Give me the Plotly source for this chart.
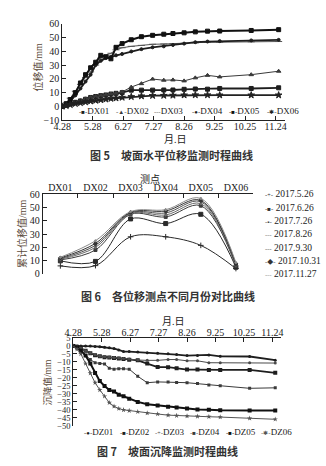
import plotly.graph_objects as go

# ---------------- data ----------------
# Fig 5: horizontal displacement (mm) vs date
dx_names = ["DX01", "DX02", "DX03", "DX04", "DX05", "DX06"]
dates = ["2017-04-28", "2017-05-02", "2017-05-06", "2017-05-11", "2017-05-16", "2017-05-21",
         "2017-05-26", "2017-05-31", "2017-06-05", "2017-06-10", "2017-06-15", "2017-06-20",
         "2017-06-26", "2017-07-05", "2017-07-15", "2017-07-26", "2017-08-06", "2017-08-15",
         "2017-08-26", "2017-09-06", "2017-09-18", "2017-09-30", "2017-10-31", "2017-11-27"]
dx01 = [0, 0.8, 1.8, 3, 4, 5.2, 6.5, 7.2, 7.8, 8.3, 9, 9.5, 10, 11.8, 11.8, 11.8, 11.9, 11.9, 12.4, 12.6, 12.5, 13, 13, 13.5]
dx02 = [0, 0.8, 1.8, 3, 4.2, 5.5, 6.5, 7.2, 7.8, 8.3, 9, 9.5, 10.5, 14, 16.5, 19.8, 19, 19.2, 18.5, 20.7, 22.5, 21.4, 23, 25.5]
dx03 = [0, 2.5, 6, 11, 16, 21, 25, 30, 35, 37, 38.5, 41, 42.5, 43.5, 44.2, 45, 45.2, 45.5, 45.8, 46, 46.5, 46.5, 46.8, 47]
dx04 = [0, 1.5, 4, 8, 13, 18, 23, 30, 33, 35, 36, 37, 38, 39.8, 41.5, 42.8, 43.5, 44.5, 45.5, 46.5, 47, 47.3, 47.8, 48.2]
dx05 = [0, 2, 5, 10, 17, 23, 28, 32, 37, 36, 34.5, 42.8, 45.5, 48.3, 50.5, 51.5, 52.3, 52.8, 53.3, 54, 54.5, 54.6, 55, 55.6]
dx06 = [0, 0.5, 1.2, 2, 2.6, 3.2, 3.8, 4.3, 4.7, 5.2, 5.7, 6, 6.5, 7, 7.5, 7.8, 7.9, 8, 8.2, 8.3, 8.3, 8.2, 8.2, 8.2]
tick_dates = ["2017-04-28", "2017-05-28", "2017-06-27", "2017-07-27", "2017-08-26",
              "2017-09-25", "2017-10-25", "2017-11-24"]
tick_labels = ["4.28", "5.28", "6.27", "7.27", "8.26", "9.25", "10.25", "11.24"]

# Fig 6: cumulative displacement (mm) per point, per survey date
survey_names = ["2017.5.26", "2017.6.26", "2017.7.26", "2017.8.26", "2017.9.30", "2017.10.31", "2017.11.27"]
cum_0526 = [6, 6.2, 28, 28, 21.5, 4]
cum_0626 = [9.8, 9.4, 41.5, 38, 45, 5]
cum_0726 = [10.5, 18, 45, 43, 51.5, 6]
cum_0826 = [11, 20, 45.5, 44.5, 53, 6.5]
cum_0930 = [11.5, 21.5, 46, 46, 54.5, 7]
cum_1031 = [12, 23, 46.5, 47.5, 55.5, 7.5]
cum_1127 = [12.5, 25, 47, 48.5, 57, 8.5]

# Fig 7: settlement (mm) vs date
dz_names = ["DZ01", "DZ02", "DZ03", "DZ04", "DZ05", "DZ06"]
dz01 = [0, 0, 0, 0, -0.1, -0.3, -0.5, -0.8, -1.1, -1.6, -2.5, -3.5, -3.5, -3.8, -4.2, -4.5, -4.8, -5.4, -6.0, -6.0, -5.6, -6.5, -6.6, -8.9]
dz02 = [0, -0.5, -1.5, -3, -4.5, -5.8, -6.5, -7, -7.2, -7.5, -7.8, -8.2, -8.6, -9, -11, -13.2, -13.3, -13.9, -14.8, -14.8, -15, -15, -15, -16.8]
dz03 = [0, -0.5, -1.5, -3, -4.5, -5.5, -6.5, -6.8, -7, -7.2, -7.5, -7.8, -8.2, -8.8, -9, -9, -8.5, -8.5, -9.3, -9.3, -10.5, -10.5, -10.5, -10.7]
dz04 = [0, -1, -3, -6, -8.5, -10.5, -11, -11.3, -14, -14.5, -14.2, -14.2, -14.5, -19, -23, -22.5, -22.5, -22.8, -23, -23.5, -24.5, -24.9, -26.5, -26.2]
dz05 = [0, -1, -3, -6, -11, -17, -22, -25, -27.5, -28.5, -30.5, -31.5, -33, -35, -36.5, -37.2, -38, -38.5, -39.2, -39.8, -39.9, -40.2, -40.4, -40.4]
dz06 = [0, -2, -5, -11, -17, -23, -27.5, -31.5, -35.5, -37.8, -39.2, -40, -40.5, -41.2, -42, -42.6, -43.3, -43.6, -43.9, -44.1, -44.3, -44.5, -45.3, -45.9]

# ---------------- styles ----------------
W, H = 326, 466
NUM_FONT = "Liberation Serif, Noto Sans CJK SC"
CJK_BOLD = "Noto Sans CJK SC"
TITLE_COLOR = "#5c4b3b"

def X(px):
    return px / W

def Y(py):
    return 1 - py / H

dx_series = [dx01, dx02, dx03, dx04, dx05, dx06]
dx_style = [
    dict(color="#1e1e1e", width=1.8, symbol="square", size=4, glyph="■"),
    dict(color="#3a3a3a", width=1.0, symbol="triangle-up", size=4, glyph="▲"),
    dict(color="#555555", width=1.0, symbol="line-ew-open", size=5, glyph="-"),
    dict(color="#1e1e1e", width=1.8, symbol="circle", size=3, glyph="●"),
    dict(color="#111111", width=2.0, symbol="square", size=4, glyph="■"),
    dict(color="#222222", width=1.8, symbol="star", size=5, glyph="✱"),
]
cum_series = [cum_0526, cum_0626, cum_0726, cum_0826, cum_0930, cum_1031, cum_1127]
cum_style = [
    dict(color="#2a2a2a", symbol="cross-thin-open", size=4, glyph="+"),
    dict(color="#2a2a2a", symbol="square", size=4, glyph="■"),
    dict(color="#3c3c3c", symbol="square", size=3, glyph="▪"),
    dict(color="#6a6a6a", symbol="circle", size=2, glyph=""),
    dict(color="#505050", symbol="circle", size=2, glyph=""),
    dict(color="#333333", symbol="diamond", size=3, glyph="◆"),
    dict(color="#8a8a8a", symbol="circle", size=2, glyph=""),
]
dz_series = [dz01, dz02, dz03, dz04, dz05, dz06]
dz_style = [
    dict(color="#1e1e1e", width=1.8, symbol="circle", size=3, glyph="●"),
    dict(color="#1e1e1e", width=1.8, symbol="square", size=4, glyph="■"),
    dict(color="#4a4a4a", width=1.0, symbol="circle", size=3, glyph="+"),
    dict(color="#3a3a3a", width=1.0, symbol="square", size=3, glyph="■"),
    dict(color="#111111", width=2.0, symbol="square", size=4, glyph="■"),
    dict(color="#555555", width=1.0, symbol="star", size=4, glyph="✱"),
]

fig = go.Figure()

# Fig 5 traces
for name, vals, st in zip(dx_names, dx_series, dx_style):
    fig.add_trace(go.Scatter(
        x=dates, y=vals, name=name, mode="lines+markers", xaxis="x", yaxis="y",
        line=dict(color=st["color"], width=st["width"]),
        marker=dict(symbol=st["symbol"], size=st["size"], color=st["color"],
                    line=dict(color=st["color"], width=1)),
        showlegend=False))

# Fig 6 traces
for name, vals, st in zip(survey_names, cum_series, cum_style):
    fig.add_trace(go.Scatter(
        x=dx_names, y=vals, name=name, mode="lines+markers", xaxis="x2", yaxis="y2",
        line=dict(color=st["color"], width=1.0, shape="spline", smoothing=1.0),
        marker=dict(symbol=st["symbol"], size=st["size"], color=st["color"],
                    line=dict(color=st["color"], width=1)),
        showlegend=False))

# Fig 7 traces
for name, vals, st in zip(dz_names, dz_series, dz_style):
    fig.add_trace(go.Scatter(
        x=dates, y=vals, name=name, mode="lines+markers", xaxis="x3", yaxis="y3",
        line=dict(color=st["color"], width=st["width"]),
        marker=dict(symbol=st["symbol"], size=st["size"], color=st["color"]),
        showlegend=False))

def axis_common(size=10, standoff=0):
    return dict(showline=True, linecolor="#222222", linewidth=1, ticks="inside",
                ticklen=4, tickcolor="#222222", showgrid=False, zeroline=False,
                ticklabelstandoff=standoff,
                tickfont=dict(family=NUM_FONT, size=size, color="#222222"))

x_end = "2017-12-03 14:00"

annotations = []

def ann(text, px, py, size=10, color="#222222", family=NUM_FONT, angle=0, xanchor="center"):
    annotations.append(dict(text=text, x=X(px), y=Y(py), xref="paper", yref="paper",
                            showarrow=False, textangle=angle, xanchor=xanchor, yanchor="middle",
                            font=dict(family=family, size=size, color=color)))

def sym(color, glyph, gsize=6):
    return (f"<span style='color:{color};font-size:7px'>-</span>"
            f"<span style='color:{color};font-size:{gsize}px'>{glyph}</span>"
            f"<span style='color:{color};font-size:7px'>-</span>")

# Fig 5 texts
ann("位移值/mm", 30, 62, size=10, color=TITLE_COLOR, angle=-90)
ann("月.日", 172, 137, size=10)
ann("<b>图 5　坡面水平位移监测时程曲线</b>", 168, 153, size=11, color="#333333", family=CJK_BOLD)
for i, (name, st) in enumerate(zip(dx_names, dx_style)):
    ann(sym(st["color"], st["glyph"]) + name, 70 + 39 * i, 107.5, size=9, xanchor="left")

# Fig 6 texts
ann("测点", 146, 177, size=10, family=CJK_BOLD)
ann("累计位移值/mm", 13, 233, size=10, color=TITLE_COLOR, angle=-90)
ann("<b>图 6　各位移测点不同月份对比曲线</b>", 165, 297, size=11, color="#333333", family=CJK_BOLD)
for i, (name, st) in enumerate(zip(survey_names, cum_style)):
    g = st["glyph"] if st["glyph"] else "-"
    ann(sym(st["color"], g, 6) + " " + name, 263, 193 + 13.6 * i, size=9.5, xanchor="left")

# Fig 7 texts
ann("月.日", 170, 323, size=10)
ann("沉降值/mm", 40, 385, size=9.5, color=TITLE_COLOR, angle=-90)
ann("<b>图 7　坡面沉降监测时程曲线</b>", 164, 456, size=11, color="#333333", family=CJK_BOLD)
for i, (name, st) in enumerate(zip(dz_names, dz_style)):
    ann(sym(st["color"], st["glyph"]) + name, 76 + 36.5 * i, 436, size=9, xanchor="left")

fig.update_layout(
    width=W, height=H, margin=dict(l=0, r=0, t=0, b=0),
    paper_bgcolor="white", plot_bgcolor="white",
    xaxis=dict(domain=[X(55), X(286)], type="date", range=["2017-04-28", x_end],
               tickvals=tick_dates, ticktext=tick_labels, anchor="y", **axis_common(10, -3)),
    yaxis=dict(domain=[Y(117), Y(18)], range=[-10, 60], dtick=10, anchor="x", **axis_common(10, 0)),
    xaxis2=dict(domain=[X(35), X(253)], type="category", categoryorder="array",
                categoryarray=dx_names, range=[-0.5, 5.5], side="top", anchor="y2",
                tickson="boundaries", **axis_common(10, -2)),
    yaxis2=dict(domain=[Y(274.3), Y(193)], range=[0, 60], dtick=10, anchor="x2", **axis_common(10, 0)),
    xaxis3=dict(domain=[X(66.5), X(282)], type="date", range=["2017-04-28", x_end],
                tickvals=tick_dates, ticktext=tick_labels, side="top", anchor="y3",
                **axis_common(10, -3)),
    yaxis3=dict(domain=[Y(430), Y(340)], range=[-50, 5], dtick=5, anchor="x3", **axis_common(8.5, 0)),
    annotations=annotations,
    showlegend=False,
)

fig.write_html("out.html")
